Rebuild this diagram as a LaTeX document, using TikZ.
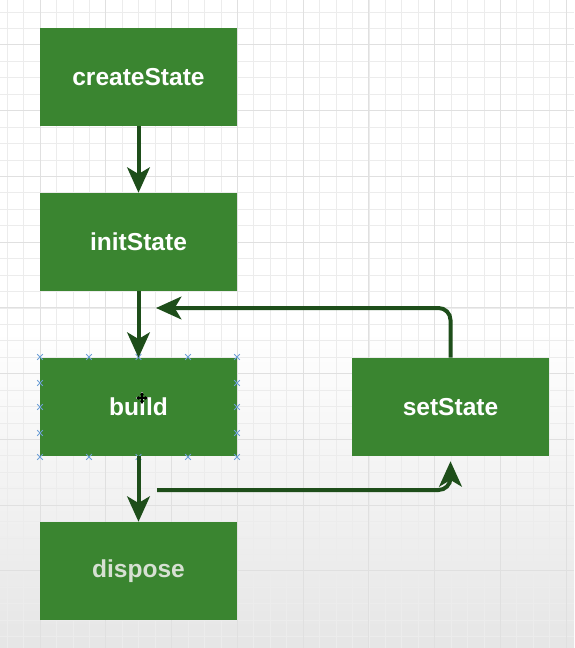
\documentclass[tikz,border=0pt]{standalone}
\usepackage{fontspec}
\setmainfont{Liberation Sans}
\usetikzlibrary{arrows.meta}
\definecolor{boxgreen}{RGB}{58,133,48}
\definecolor{arrowgreen}{RGB}{30,78,26}
\definecolor{minorgrid}{RGB}{236,236,236}
\definecolor{majorgrid}{RGB}{224,224,224}
\definecolor{handleblue}{RGB}{110,160,215}
\tikzset{
  box/.style={draw=none, fill=boxgreen, minimum width=147.75pt, minimum height=73.5pt,
    inner sep=0pt, text=white, font=\fontsize{18.4pt}{20pt}\selectfont\bfseries},
  flow/.style={draw=arrowgreen, line width=3pt,
    -{Stealth[length=19pt, width=17pt, inset=5pt]}},
  handle/.style={draw=handleblue, line width=0.6pt},
}
\begin{document}
\begin{tikzpicture}[x=0.75pt,y=-0.75pt]
  \useasboundingbox (0,0) rectangle (574,648);
  % background
  \fill[white] (0,0) rectangle (574,648);
  \shade[top color=white, bottom color=black!10] (0,330) rectangle (574,648);
  % minor grid
  \foreach \i in {0,...,36} {
    \draw[minorgrid, line width=0.7pt] ({-25.6+16.44*\i},0) -- ({-25.6+16.44*\i},648);
  }
  \foreach \i in {0,...,40} {
    \draw[minorgrid, line width=0.7pt] (0,{-20.8+16.44*\i}) -- (574,{-20.8+16.44*\i});
  }
  % major grid
  \foreach \i in {0,...,9} {
    \draw[majorgrid, line width=0.8pt] ({-25.6+65.75*\i},0) -- ({-25.6+65.75*\i},648);
    \draw[majorgrid, line width=0.8pt] (0,{-20.8+65.75*\i}) -- (574,{-20.8+65.75*\i});
  }
  % boxes
  \node[box] (cs) at (138.5,77) {createState};
  \node[box] (is) at (138.5,242) {initState};
  \node[box] (bd) at (138.5,407) {build};
  \node[box] (ss) at (450.5,407) {setState};
  \node[box, text={rgb,255:red,214;green,224;blue,210}] (dp) at (138.5,571) {dispose};
  % selection handles around build
  \foreach \hx in {40,89,138.5,188,237} {
    \foreach \hy in {357,457} {
      \draw[handle] (\hx-2.8,\hy-2.8) -- (\hx+2.8,\hy+2.8) (\hx-2.8,\hy+2.8) -- (\hx+2.8,\hy-2.8);
    }
  }
  \foreach \hx in {40,237} {
    \foreach \hy in {383,407,433} {
      \draw[handle] (\hx-2.8,\hy-2.8) -- (\hx+2.8,\hy+2.8) (\hx-2.8,\hy+2.8) -- (\hx+2.8,\hy-2.8);
    }
  }
  % move cursor
  \begin{scope}[shift={(142,398)}]
    \draw[white, line width=2.2pt] (-6,0) -- (6,0) (0,-6) -- (0,6);
    \draw[black, line width=0.9pt, -{Stealth[length=2.5pt,width=3pt]}] (0,0) -- (6,0);
    \draw[black, line width=0.9pt, -{Stealth[length=2.5pt,width=3pt]}] (0,0) -- (-6,0);
    \draw[black, line width=0.9pt, -{Stealth[length=2.5pt,width=3pt]}] (0,0) -- (0,6);
    \draw[black, line width=0.9pt, -{Stealth[length=2.5pt,width=3pt]}] (0,0) -- (0,-6);
  \end{scope}
  % connectors
  \coordinate (loopin) at (156,308);
  \coordinate (loopout) at (157,490);
  \draw[flow] (cs.south) -- (is.north);
  \draw[flow] (is.south) -- (bd.north);
  \draw[flow] (bd.south) -- (dp.north);
  \draw[flow, rounded corners=9pt] (ss.north) |- (loopin);
  \draw[flow, rounded corners=9pt, shorten >=3.75pt] (loopout) -| (ss.south);
\end{tikzpicture}
\end{document}
